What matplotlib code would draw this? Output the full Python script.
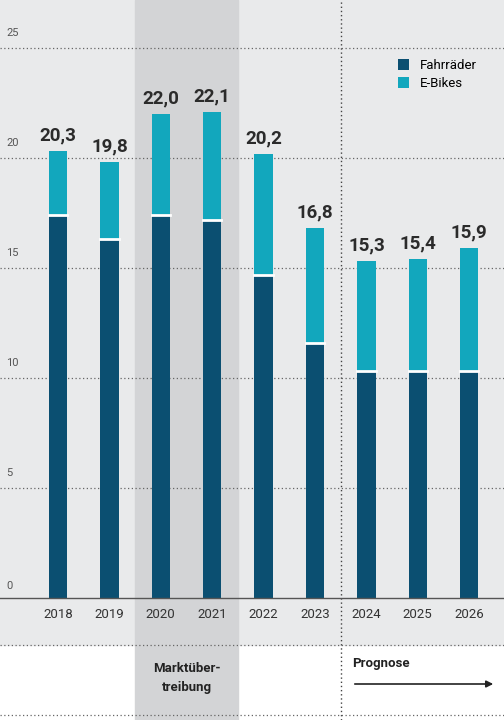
import matplotlib
matplotlib.use("Agg")
import matplotlib.pyplot as plt
from matplotlib.patches import Rectangle

years = ["2018","2019","2020","2021","2022","2023","2024","2025","2026"]
totals = [20.3,19.8,22.0,22.1,20.2,16.8,15.3,15.4,15.9]
fahrraeder = [17.4,16.3,17.4,17.2,14.7,11.6,10.3,10.3,10.3]
ebikes = [t-f for t,f in zip(totals,fahrraeder)]
total_labels = ["20,3","19,8","22,0","22,1","20,2","16,8","15,3","15,4","15,9"]
yticks = [0,5,10,15,20,25]

plt.rcParams['font.family'] = ['Roboto','DejaVu Sans']
DARK = "#0b4f71"; TEAL = "#12a7bd"

fig = plt.figure(figsize=(5.04,7.2), dpi=100)
ax = fig.add_axes([0,0,1,1])
ax.set_xlim(-58/51.4, (504-58)/51.4)
ax.set_ylim(-122/22, 598/22)
ax.axis('off')
x0, x1 = ax.get_xlim(); y0, y1 = ax.get_ylim()
ybot = -47/22  # bottom of gray area
ax.add_patch(Rectangle((x0, ybot), x1-x0, y1-ybot, color="#e9eaeb", zorder=0))
ax.add_patch(Rectangle((1.5, y0), 2, y1-y0, color="#d3d4d6", zorder=0.5))
ax.plot([5.5,5.5],[y0,y1], ls=(0,(1,2)), color="#444", lw=1, zorder=1)
for t in yticks:
    if t > 0:
        ax.plot([x0,x1],[t,t], ls=(0,(1,2)), color="#666", lw=0.9, zorder=1)
    ax.text(x0+0.12, t+0.45 if t>0 else 0.3, str(t), fontsize=8, color="#555", va='bottom', ha='left')
ax.plot([x0,x1],[0,0], color="#555", lw=1, zorder=3)
ax.plot([x0,x1],[ybot,ybot], ls=(0,(1,2)), color="#666", lw=0.9, zorder=1)
ax.plot([x0,x1],[-117/22,-117/22], ls=(0,(1,2)), color="#666", lw=0.9, zorder=1)

xs = range(len(years))
w = 0.36
ax.bar(xs, fahrraeder, w, color=DARK, zorder=2, label="Fahrräder")
ax.bar(xs, ebikes, w, bottom=fahrraeder, color=TEAL, zorder=2, edgecolor='white', linewidth=0, label="E-Bikes")
for i in xs:
    ax.plot([i-w/2, i+w/2],[fahrraeder[i]]*2, color='white', lw=2, zorder=2.5)
    ax.text(i, totals[i]+0.3, total_labels[i], ha='center', va='bottom', fontsize=13.5, fontweight='bold', color="#2b2b2b")
    ax.text(i, -17/22, years[i], ha='center', va='center', fontsize=9.5, color="#333")

ax.text(2.5, -80/22, "Marktüber-\ntreibung", ha='center', va='center', fontsize=9.5, fontweight='bold', color="#222", linespacing=1.5)
ax.text((352-58)/51.4, -66/22, "Prognose", ha='left', va='center', fontsize=9.5, fontweight='bold', color="#222")
ax.annotate("", xy=((496-58)/51.4, -86/22), xytext=((352-58)/51.4, -86/22),
            arrowprops=dict(arrowstyle='-|>', color="#222", lw=1.2, mutation_scale=10))

ax.legend(loc='upper right', bbox_to_anchor=(0.97, 0.935), frameon=False, fontsize=9.5,
          handlelength=0.9, handleheight=0.9, labelspacing=0.4, handletextpad=0.8)
fig.savefig("out.png", dpi=100)
